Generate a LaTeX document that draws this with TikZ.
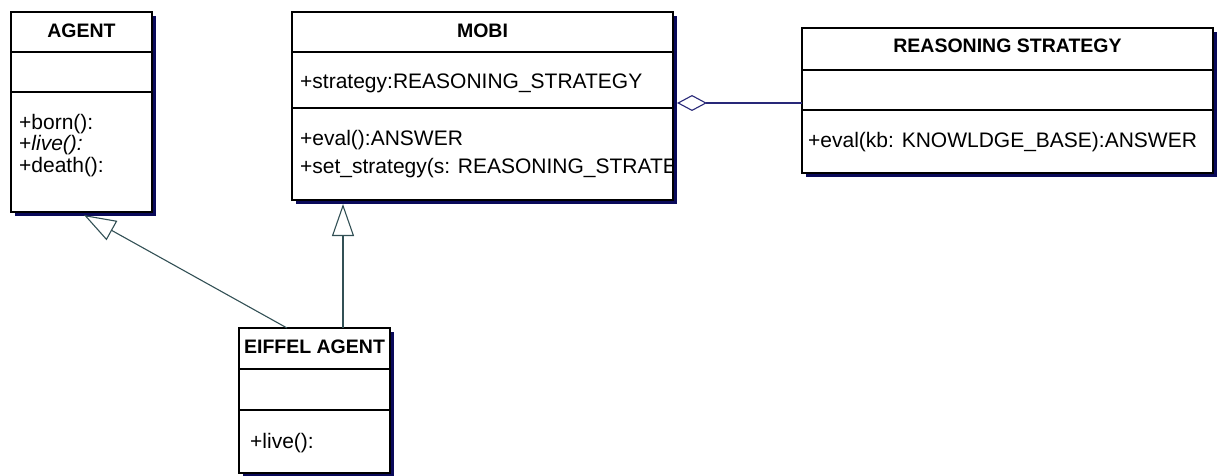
\documentclass[tikz,border=0pt]{standalone}
\usepackage{fontspec}
\setmainfont{Liberation Sans}
\usetikzlibrary{arrows.meta,shadows}
\definecolor{shadownavy}{RGB}{10,10,90}
\definecolor{genline}{RGB}{50,80,85}
\definecolor{aggline}{RGB}{40,40,120}
\tikzset{
  classbox/.style={draw=black, fill=white, line width=1.3pt, inner sep=0pt, outer sep=0pt,
    anchor=north west,
    general shadow={fill=shadownavy, shadow xshift=4pt, shadow yshift=-4pt}},
  divider/.style={draw=black, line width=1.2pt},
  ctitle/.style={inner sep=0pt, font=\fontsize{19.5}{22}\selectfont\bfseries},
  member/.style={inner sep=0pt, anchor=west, font=\fontsize{21}{24}\selectfont},
  generalization/.style={draw=genline, line width=1.1pt,
    -{Triangle[open, length=32pt, width=22pt]}},
  aggregation/.style={draw=aggline, line width=1.1pt,
    -{Diamond[open, length=30pt, width=16pt]}}
}
\begin{document}
\begin{tikzpicture}[x=1pt, y=-1pt]
\useasboundingbox (0,0) rectangle (1218,476);

% AGENT
\node[classbox, minimum width=141pt, minimum height=200pt] (agent) at (11,12) {};
\draw[divider] (11,52) -- (152,52);
\draw[divider] (11,92) -- (152,92);
\node[ctitle] (agentT) at (81.5,31) {AGENT};
\node[member] (agentBorn) at (19,124) {+born():};
\node[member] (agentLive) at (19,145.5) {+\textit{live():}};
\node[member] (agentDeath) at (19,167) {+death():};

% MOBI
\node[classbox, minimum width=381pt, minimum height=188pt] (mobi) at (292,12) {};
\draw[divider] (292,52) -- (673,52);
\draw[divider] (292,108) -- (673,108);
\node[ctitle] (mobiT) at (482.5,31) {MOBI};
\node[member] (mobiStrategy) at (300,83) {+strategy:REASONING\_STRATEGY};
\begin{scope}
  \clip (292,108) rectangle (672.5,200);
  \node[member] (mobiEval) at (300,140) {+eval():ANSWER};
  \node[member] (mobiSet) at (300,168) {+set\_strategy(s: REASONING\_STRATEGY)};
\end{scope}

% REASONING STRATEGY
\node[classbox, minimum width=411pt, minimum height=145pt] (rs) at (802,28) {};
\draw[divider] (802,70) -- (1213,70);
\draw[divider] (802,110) -- (1213,110);
\node[ctitle] (rsT) at (1007.5,46) {REASONING STRATEGY};
\node[member] (rsEval) at (808,142) {+eval(kb: KNOWLDGE\_BASE):ANSWER};

% EIFFEL AGENT
\node[classbox, minimum width=151pt, minimum height=145pt] (eiffel) at (239,328) {};
\draw[divider] (239,369) -- (390,369);
\draw[divider] (239,410) -- (390,410);
\node[ctitle] (eiffelT) at (314.5,347) {EIFFEL AGENT};
\node[member] (eiffelLive) at (250,443) {+live():};

% connector end points on the classes
\coordinate (aggR) at (802,103);
\coordinate (aggL) at (677,103);
\coordinate (genMobiFoot) at (343,328);
\coordinate (genMobiTip) at (343,204);
\coordinate (genAgentFoot) at (287,328);
\coordinate (genAgentTip) at (84,215);

% relations
\draw[aggregation] (aggR) -- (aggL);
\draw[generalization] (genMobiFoot) -- (genMobiTip);
\draw[generalization] (genAgentFoot) -- (genAgentTip);
\end{tikzpicture}
\end{document}
